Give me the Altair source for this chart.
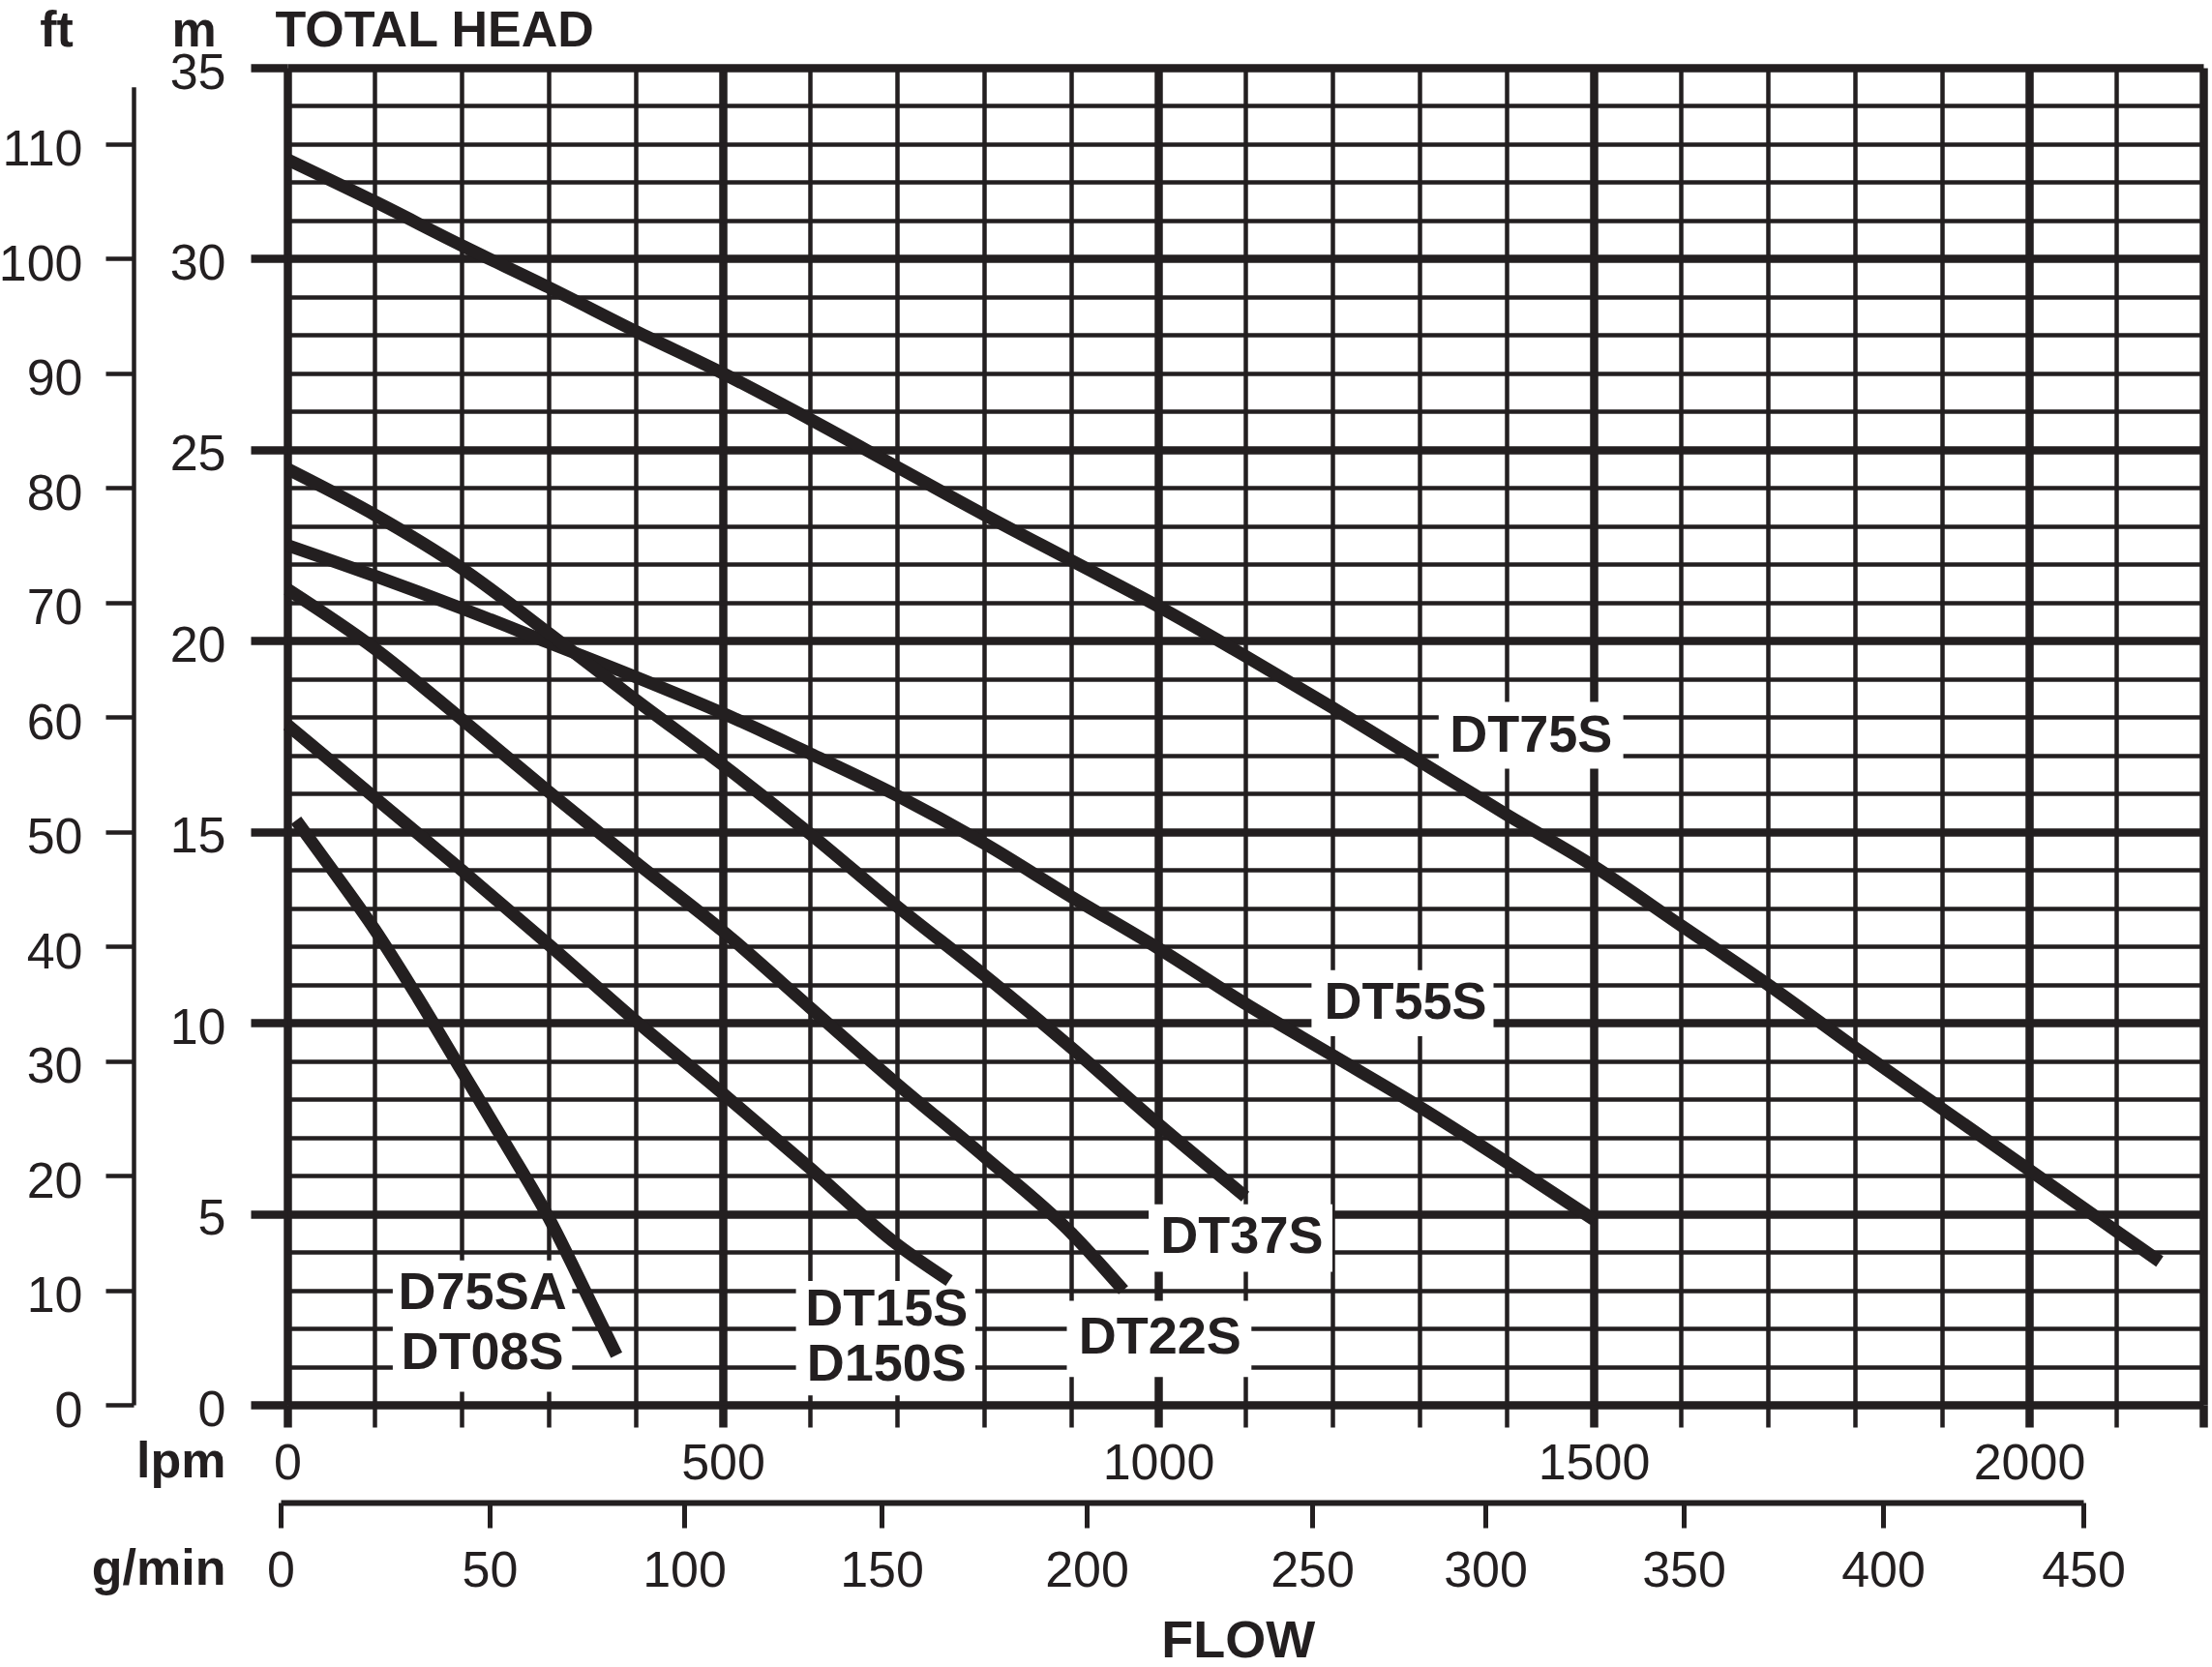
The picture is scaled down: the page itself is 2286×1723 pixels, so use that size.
import altair as alt
import pandas as pd

# ---------------- data ----------------
dt75s_lpm = [0, 100, 200, 300, 400, 500, 600, 700, 800, 900, 1000, 1100, 1200, 1300, 1400, 1500, 1600, 1700, 1800, 1900, 2000, 2100, 2150]
dt75s_m = [32.6, 31.5, 30.35, 29.25, 28.1, 27.0, 25.8, 24.55, 23.3, 22.1, 20.9, 19.6, 18.25, 16.85, 15.45, 14.1, 12.55, 11.0, 9.35, 7.75, 6.15, 4.55, 3.75]

dt55s_lpm = [0, 100, 200, 300, 400, 500, 600, 700, 800, 900, 1000, 1100, 1200, 1300, 1400, 1500]
dt55s_m = [22.5, 21.7, 20.85, 19.95, 19.05, 18.1, 17.05, 15.95, 14.7, 13.3, 11.95, 10.5, 9.15, 7.8, 6.35, 4.85]

dt37s_lpm = [0, 100, 200, 300, 400, 500, 600, 700, 800, 900, 1000, 1100]
dt37s_m = [24.5, 23.3, 21.9, 20.2, 18.45, 16.75, 14.95, 13.05, 11.25, 9.35, 7.35, 5.45]

dt22s_lpm = [0, 100, 200, 300, 400, 500, 600, 700, 800, 900, 960]
dt22s_m = [21.35, 19.8, 17.95, 16.05, 14.2, 12.4, 10.4, 8.4, 6.5, 4.5, 3.0]

dt15s_lpm = [0, 100, 200, 300, 400, 500, 600, 700, 760]
dt15s_m = [17.8, 15.9, 14.0, 12.05, 10.05, 8.15, 6.2, 4.2, 3.25]

d75sa_lpm = [10, 50, 100, 150, 200, 250, 300, 350, 378]
d75sa_m = [15.3, 14.05, 12.45, 10.65, 8.75, 6.85, 4.9, 2.6, 1.3]

label_text = ["DT75S", "DT55S", "DT37S", "DT22S", "DT15S", "D150S", "D75SA", "DT08S"]
label_lpm = [1428, 1284, 1096, 1002, 688, 688, 224, 224]
label_m = [17.5, 10.5, 4.38, 1.76, 2.47, 1.03, 2.91, 1.33]

box_lpm_from = [1322, 1176, 989, 895, 584, 121]
box_lpm_to = [1534, 1385, 1200, 1107, 790, 327]
box_m_from = [16.65, 9.65, 3.48, 0.73, 0.25, 0.34]
box_m_to = [18.4, 11.38, 5.25, 2.72, 3.24, 3.78]

lpm_ticks = list(range(0, 2201, 100))
m_ticks = list(range(0, 36))
ft_ticks = list(range(0, 111, 10))
gpm_ticks = list(range(0, 451, 50))

head_title = ["TOTAL HEAD"]
head_title_lpm = [-14]
head_title_m = [35.95]
flow_title = ["FLOW"]
flow_title_lpm = [1092]
flow_title_m = [-6.2]

# ---------------- tables ----------------
series = [
    ("DT75S", dt75s_lpm, dt75s_m),
    ("DT55S", dt55s_lpm, dt55s_m),
    ("DT37S", dt37s_lpm, dt37s_m),
    ("DT22S", dt22s_lpm, dt22s_m),
    ("DT15S", dt15s_lpm, dt15s_m),
    ("D75SA", d75sa_lpm, d75sa_m),
]
curves = pd.concat(
    [pd.DataFrame({"series": n, "lpm": xs_, "m": ys_}) for n, xs_, ys_ in series],
    ignore_index=True,
)
labels = pd.DataFrame({"text": label_text, "lpm": label_lpm, "m": label_m})
boxes = pd.DataFrame({"x0": box_lpm_from, "x1": box_lpm_to, "y0": box_m_from, "y1": box_m_to})
head_df = pd.DataFrame({"text": head_title, "lpm": head_title_lpm, "m": head_title_m})
flow_df = pd.DataFrame({"text": flow_title, "lpm": flow_title_lpm, "m": flow_title_m})
aux = pd.DataFrame({"gpm": [0, 450], "ft": [0, 115]})

# ---------------- style ----------------
W, H = 1980, 1382
FONT = "Liberation Sans"
INK = "#231f20"
NUM = 52

# the printed g/min scale is hand-drafted and not perfectly even: piecewise pixel stops
GPM_RANGE = [-7, 209, 410, 614, 826, 1059, 1238, 1443, 1649, 1856]


def xs():
    return alt.Scale(domain=[0, 2200], range=[0, W], nice=False, zero=False)


def ys():
    return alt.Scale(domain=[0, 35], range=[H, 0], nice=False, zero=False)


x_axis = alt.Axis(
    orient="bottom",
    values=lpm_ticks, format="d",
    labelExpr="datum.value % 500 === 0 ? datum.label : ''",
    labelOverlap=False, labelFlush=False,
    grid=True, gridColor=INK, gridOpacity=1,
    gridWidth={"condition": {"test": "datum.value % 500 === 0 || datum.value === 2200", "value": 8.5}, "value": 4.5},
    domain=False,
    ticks=True, tickColor=INK, tickSize=23,
    tickWidth={"condition": {"test": "datum.value % 500 === 0 || datum.value === 2200", "value": 8.5}, "value": 4.5},
    labelFont=FONT, labelFontSize=NUM, labelColor=INK, labelPadding=12,
    title="lpm", titleFont=FONT, titleFontSize=NUM, titleFontWeight="bold", titleColor=INK,
    titleAlign="right", titleBaseline="middle", titleAngle=0, titleX=-64, titleY=58,
)
y_axis = alt.Axis(
    orient="left",
    values=m_ticks, format="d",
    labelExpr="datum.value % 5 === 0 ? datum.label : ''",
    labelOverlap=False,
    grid=True, gridColor=INK, gridOpacity=1,
    gridWidth={"condition": {"test": "datum.value % 5 === 0", "value": 8.5}, "value": 4.5},
    domain=False,
    ticks=True, tickColor=INK, tickSize=38, tickWidth=8.5,
    tickOpacity={"condition": {"test": "datum.value % 5 === 0", "value": 1}, "value": 0},
    labelFont=FONT, labelFontSize=NUM, labelColor=INK, labelPadding=26, labelOffset=5,
    title="m", titleFont=FONT, titleFontSize=NUM, titleFontWeight="bold", titleColor=INK,
    titleAlign="center", titleBaseline="middle", titleAngle=0, titleX=-97, titleY=-39,
)

boxes_layer = alt.Chart(boxes).mark_rect(color="white").encode(
    x=alt.X("x0:Q", scale=xs(), axis=None),
    x2="x1:Q",
    y=alt.Y("y0:Q", scale=ys(), axis=None),
    y2="y1:Q",
)

lines_layer = alt.Chart(curves).mark_line(
    color=INK, strokeWidth=13, strokeCap="butt", interpolate="monotone"
).encode(
    x=alt.X("lpm:Q", scale=xs(), axis=x_axis),
    y=alt.Y("m:Q", scale=ys(), axis=y_axis),
    detail="series:N",
    order="lpm:Q",
)

labels_layer = alt.Chart(labels).mark_text(
    font=FONT, fontWeight="bold", fontSize=54, color=INK, align="center", baseline="middle"
).encode(
    x=alt.X("lpm:Q", scale=xs(), axis=None),
    y=alt.Y("m:Q", scale=ys(), axis=None),
    text="text:N",
)

head_layer = alt.Chart(head_df).mark_text(
    font=FONT, fontWeight="bold", fontSize=NUM, color=INK, align="left", baseline="middle"
).encode(
    x=alt.X("lpm:Q", scale=xs(), axis=None),
    y=alt.Y("m:Q", scale=ys(), axis=None),
    text="text:N",
)

flow_layer = alt.Chart(flow_df).mark_text(
    font=FONT, fontWeight="bold", fontSize=54, color=INK, align="center", baseline="middle"
).encode(
    x=alt.X("lpm:Q", scale=xs(), axis=None),
    y=alt.Y("m:Q", scale=ys(), axis=None),
    text="text:N",
)

aux_layer = alt.Chart(aux).mark_point(opacity=0).encode(
    x=alt.X(
        "gpm:Q",
        scale=alt.Scale(domain=gpm_ticks, range=GPM_RANGE, nice=False, zero=False),
        axis=alt.Axis(
            orient="bottom", offset=101, values=gpm_ticks, format="d", grid=False,
            domain=True, domainColor=INK, domainWidth=6,
            ticks=True, tickColor=INK, tickSize=26, tickWidth=5,
            labelFont=FONT, labelFontSize=NUM, labelColor=INK, labelPadding=19,
            labelOverlap=False, labelFlush=False,
            title="g/min", titleFont=FONT, titleFontSize=NUM, titleFontWeight="bold", titleColor=INK,
            titleAlign="right", titleBaseline="middle", titleAngle=0, titleX=-64, titleY=68,
        ),
    ),
    y=alt.Y(
        "ft:Q",
        scale=alt.Scale(domain=[0, 115], range=[H, H - 115 * 0.3 * H / 35], nice=False, zero=False),
        axis=alt.Axis(
            orient="left", offset=159, values=ft_ticks, format="d", grid=False,
            domain=True, domainColor=INK, domainWidth=4.5,
            ticks=True, tickColor=INK, tickSize=29, tickWidth=4.5,
            labelFont=FONT, labelFontSize=NUM, labelColor=INK, labelPadding=24, labelOffset=6,
            labelOverlap=False,
            title="ft", titleFont=FONT, titleFontSize=NUM, titleFontWeight="bold", titleColor=INK,
            titleAlign="center", titleBaseline="middle", titleAngle=0, titleX=-80, titleY=-39,
        ),
    ),
)

chart = alt.layer(
    boxes_layer, lines_layer, labels_layer, head_layer, flow_layer, aux_layer
).resolve_scale(
    x="independent", y="independent"
).properties(
    width=W,
    height=H,
    autosize=alt.AutoSizeParams(type="none"),
    padding={"left": 297, "top": 70, "right": 9, "bottom": 271},
    background="white",
).configure_view(stroke=None)

chart.save("out.html", embed_options={"renderer": "svg", "actions": False})
